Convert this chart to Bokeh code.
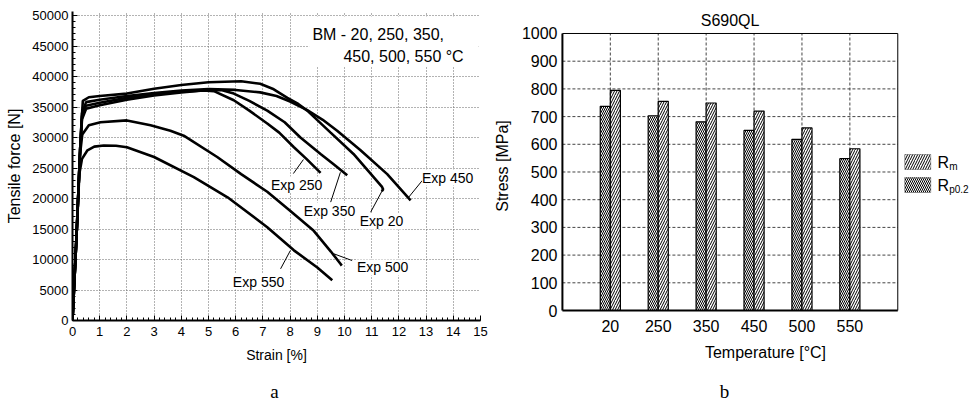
from bokeh.plotting import figure
from bokeh.models import Range1d, SingleIntervalTicker, FixedTicker, Label, BoxAnnotation, ColumnDataSource
from bokeh.layouts import row, column
from bokeh.transform import dodge
from bokeh.embed import file_html
from bokeh.resources import INLINE

# ---------------- data: panel a (force-strain curves) ----------------
strain_20 = [0, 0.15, 0.3, 0.38, 0.6, 1.0, 2.0, 3.0, 4.0, 5.0, 6.2, 6.9, 7.4, 7.9, 8.3, 8.63, 9.49, 10.33, 11.07, 11.38, 11.42, 11.37]
force_20 = [0, 14000, 30000, 36000, 36600, 36800, 37200, 38000, 38600, 39050, 39230, 38800, 37900, 36500, 35500, 34400, 30800, 27300, 23500, 21900, 21500, 21200]

strain_250 = [0, 0.15, 0.28, 0.35, 0.5, 1.0, 2.0, 3.0, 4.0, 4.8, 5.2, 5.93, 6.5, 7.16, 7.6, 8.14, 8.6, 9.12]
force_250 = [0, 14000, 28000, 33500, 35200, 35700, 36500, 37100, 37500, 37700, 37600, 36100, 34400, 32300, 30800, 28400, 26500, 24200]

strain_350 = [0, 0.15, 0.28, 0.35, 0.5, 1.0, 2.0, 3.0, 4.0, 5.0, 5.5, 5.93, 6.5, 7.16, 7.8, 8.38, 9.12, 9.6, 10.1]
force_350 = [0, 14000, 28000, 33000, 34700, 35300, 36200, 36900, 37400, 37800, 37750, 37200, 36000, 34400, 32500, 30000, 27300, 25600, 23800]

strain_450 = [0, 0.15, 0.28, 0.35, 0.5, 1.0, 2.0, 3.0, 4.0, 5.0, 6.0, 6.9, 7.5, 8.0, 8.63, 9.2, 9.73, 10.59, 11.57, 12.43]
force_450 = [0, 14000, 28000, 34000, 35800, 36200, 36800, 37300, 37700, 37950, 37800, 37400, 36800, 35900, 34500, 32900, 31100, 27900, 24000, 19700]

strain_500 = [0, 0.15, 0.27, 0.36, 0.6, 1.03, 2.0, 2.87, 3.6, 4.09, 5.32, 6.2, 7.16, 8.0, 8.87, 9.5, 9.85, 9.9]
force_500 = [0, 14000, 27000, 30500, 32000, 32500, 32800, 32000, 31100, 30300, 26800, 24000, 21100, 18000, 14700, 11300, 9300, 9000]

strain_550 = [0, 0.15, 0.25, 0.35, 0.55, 0.8, 1.15, 1.6, 2.0, 3.0, 4.46, 5.7, 7.16, 8.14, 9.0, 9.55]
force_550 = [0, 14000, 24000, 26500, 27900, 28500, 28700, 28650, 28400, 26800, 23500, 20200, 15300, 11500, 8700, 6600]

curve_names = ["Exp 250", "Exp 350", "Exp 20", "Exp 450", "Exp 500", "Exp 550"]

# ---------------- data: panel b (strength vs temperature) ----------------
temps = ["20", "250", "350", "450", "500", "550"]
rp02 = [737, 703, 681, 650, 618, 548]
rm = [795, 755, 749, 720, 659, 584]
stress_ticks = list(range(0, 1001, 100))

FONT = "Liberation Sans"

# ======================= panel a =======================
p1 = figure(width=490, height=375, x_range=Range1d(0, 15), y_range=Range1d(0, 50656),
            output_backend="svg", toolbar_location=None,
            min_border_left=72, min_border_right=10, min_border_top=11, min_border_bottom=55)
p1.outline_line_color = None

for s, f in [(strain_20, force_20), (strain_250, force_250), (strain_350, force_350),
             (strain_450, force_450), (strain_500, force_500), (strain_550, force_550)]:
    p1.line(s, f, line_color="black", line_width=2.6)

p1.xaxis.ticker = SingleIntervalTicker(interval=1, num_minor_ticks=5)
p1.yaxis.ticker = SingleIntervalTicker(interval=5000, num_minor_ticks=5)
for ax in (p1.xaxis[0], p1.yaxis[0]):
    ax.axis_line_color = "black"
    ax.axis_line_width = 2
    ax.major_tick_in = 5
    ax.major_tick_out = 0
    ax.minor_tick_in = 3
    ax.minor_tick_out = 0
    ax.major_tick_line_color = "black"
    ax.minor_tick_line_color = "black"
    ax.major_label_text_font = FONT
    ax.major_label_text_font_size = "13px"
    ax.major_label_text_color = "black"
    ax.axis_label_text_font = FONT
    ax.axis_label_text_font_style = "normal"
    ax.axis_label_text_color = "black"
p1.xaxis.axis_label = "Strain [%]"
p1.xaxis.axis_label_text_font_size = "14px"
p1.xaxis.axis_label_standoff = 8
p1.xaxis.major_label_standoff = 6
p1.yaxis.axis_label = "Tensile force [N]"
p1.yaxis.axis_label_text_font_size = "16px"
p1.yaxis.axis_label_standoff = 6
p1.yaxis.major_label_standoff = 4
for g in (p1.xgrid[0], p1.ygrid[0]):
    g.grid_line_color = "#666666"
    g.grid_line_dash = "1 2"
    g.grid_line_width = 1

# curve labels with leader lines: (text x, text y, leader x0, y0, x1, y1)
label_pos = {
    "Exp 250": (8.24, 22290, 8.12, 24090, 8.49, 26390),
    "Exp 350": (9.45, 18030, 9.49, 19390, 9.85, 24300),
    "Exp 20": (11.36, 16230, 10.96, 17750, 11.39, 21310),
    "Exp 450": (13.79, 23440, 12.86, 22950, 12.36, 20210),
    "Exp 500": (11.4, 8690, 10.28, 9830, 9.61, 10930),
    "Exp 550": (6.84, 6390, 7.65, 8470, 8.01, 11470),
}
lx0, ly0, lx1, ly1 = [], [], [], []
for name in curve_names:
    tx, ty, ax0, ay0, ax1, ay1 = label_pos[name]
    lx0.append(ax0); ly0.append(ay0); lx1.append(ax1); ly1.append(ay1)
p1.segment(x0=lx0, y0=ly0, x1=lx1, y1=ly1, line_color="black", line_width=1)
for name in curve_names:
    tx, ty = label_pos[name][:2]
    p1.add_layout(Label(x=tx, y=ty, text=name, text_align="center", text_baseline="middle",
                        text_font=FONT, text_font_size="14px", text_color="black",
                        background_fill_color="white", background_fill_alpha=1.0))

p1.add_layout(BoxAnnotation(left=8.7, right=14.93, bottom=41700, top=49850,
                            fill_color="white", fill_alpha=1.0, line_color=None))
p1.add_layout(Label(x=8.82, y=46960, text="BM - 20, 250, 350,", text_align="left",
                    text_baseline="middle", text_font=FONT, text_font_size="16px", text_color="black"))
p1.add_layout(Label(x=9.96, y=43350, text="450, 500, 550 \u00b0C", text_align="left",
                    text_baseline="middle", text_font=FONT, text_font_size="16px", text_color="black"))

# ======================= panel b =======================
xs = [i + 1 for i in range(len(temps))]
x_end = len(temps) + 1
src = ColumnDataSource(dict(x=xs, rm=rm, rp02=rp02))
p2 = figure(width=480, height=375, x_range=Range1d(-0.04, 8.518), y_range=Range1d(-36.1, 1079.4),
            output_backend="svg", toolbar_location=None,
            min_border_left=68, min_border_right=0, min_border_top=11, min_border_bottom=55)
p2.outline_line_color = None
p2.xgrid.visible = False
p2.ygrid.visible = False

# dashed grid inside the box
gy = stress_ticks[1:-1]
p2.segment(x0=[0] * len(gy), x1=[x_end] * len(gy), y0=gy, y1=gy,
           line_color="#444444", line_dash="3 2", line_width=1)
p2.segment(x0=xs, x1=xs, y0=[0] * len(xs), y1=[stress_ticks[-1]] * len(xs),
           line_color="#444444", line_dash="3 2", line_width=1)

p2.vbar(x=dodge("x", -0.105), top="rp02", width=0.21, source=src,
        fill_color="white", line_color="black", line_width=1.2,
        hatch_pattern="\\", hatch_scale=4, hatch_weight=1, hatch_color="black")
p2.vbar(x=dodge("x", 0.105), top="rm", width=0.21, source=src,
        fill_color="white", line_color="black", line_width=1.2,
        hatch_pattern="/", hatch_scale=5, hatch_weight=1, hatch_color="black")

# plot box
p2.segment(x0=[0, 0], x1=[0, x_end], y0=[0, 0], y1=[stress_ticks[-1], 0], line_color="black", line_width=2)
p2.segment(x0=[0, x_end], x1=[x_end, x_end], y0=[stress_ticks[-1], 0], y1=[stress_ticks[-1], stress_ticks[-1]],
           line_color="black", line_width=1)

p2.xaxis.ticker = FixedTicker(ticks=xs)
p2.xaxis.major_label_overrides = {x: t for x, t in zip(xs, temps)}
p2.yaxis.ticker = FixedTicker(ticks=stress_ticks)
for ax in (p2.xaxis[0], p2.yaxis[0]):
    ax.axis_line_color = None
    ax.major_tick_line_color = None
    ax.minor_tick_line_color = None
    ax.major_tick_in = 0
    ax.major_tick_out = 0
    ax.minor_tick_in = 0
    ax.minor_tick_out = 0
    ax.major_label_text_font = FONT
    ax.major_label_text_font_size = "16px"
    ax.major_label_text_color = "black"
    ax.axis_label_text_font = FONT
    ax.axis_label_text_font_style = "normal"
    ax.axis_label_text_font_size = "16px"
    ax.axis_label_text_color = "black"
p2.xaxis.axis_label = "Temperature [\u00b0C]"
p2.xaxis.major_label_standoff = -1
p2.xaxis.axis_label_standoff = 9
p2.yaxis.axis_label = "Stress [MPa]"
p2.yaxis.major_label_standoff = 3
p2.yaxis.axis_label_standoff = 8

p2.add_layout(Label(x=x_end / 2, y=1047, text="S690QL", text_align="center", text_baseline="middle",
                    text_font=FONT, text_font_size="16px", text_color="black"))

# legend
p2.add_layout(BoxAnnotation(left=7.146, right=7.686, bottom=509, top=563, fill_color="white",
                            line_color="black", line_width=1.2, hatch_pattern="/", hatch_scale=5,
                            hatch_weight=1, hatch_color="black"))
p2.add_layout(BoxAnnotation(left=7.146, right=7.686, bottom=426, top=480, fill_color="white",
                            line_color="black", line_width=1.2, hatch_pattern="\\", hatch_scale=4,
                            hatch_weight=1, hatch_color="black"))
for t, xx, yy, fs in [("R", 7.831, 536, "16px"), ("m", 8.072, 521, "10px"),
                      ("R", 7.831, 453, "16px"), ("p0.2", 8.072, 438, "10px")]:
    p2.add_layout(Label(x=xx, y=yy, text=t, text_align="left", text_baseline="middle",
                        text_font=FONT, text_font_size=fs, text_color="black"))

# ======================= panel captions =======================
p3 = figure(width=970, height=29, x_range=Range1d(0, 970), y_range=Range1d(0, 29),
            output_backend="svg", toolbar_location=None,
            min_border_left=0, min_border_right=0, min_border_top=0, min_border_bottom=0)
p3.xaxis.visible = False
p3.yaxis.visible = False
p3.xgrid.visible = False
p3.ygrid.visible = False
p3.outline_line_color = None
for t, xx in [("a", 274), ("b", 724)]:
    p3.add_layout(Label(x=xx, y=13, text=t, text_align="center", text_baseline="middle",
                        text_font="Liberation Serif", text_font_size="19px", text_color="black"))

layout = column(row(p1, p2), p3)
open("out.html", "w").write(file_html(layout, INLINE))
